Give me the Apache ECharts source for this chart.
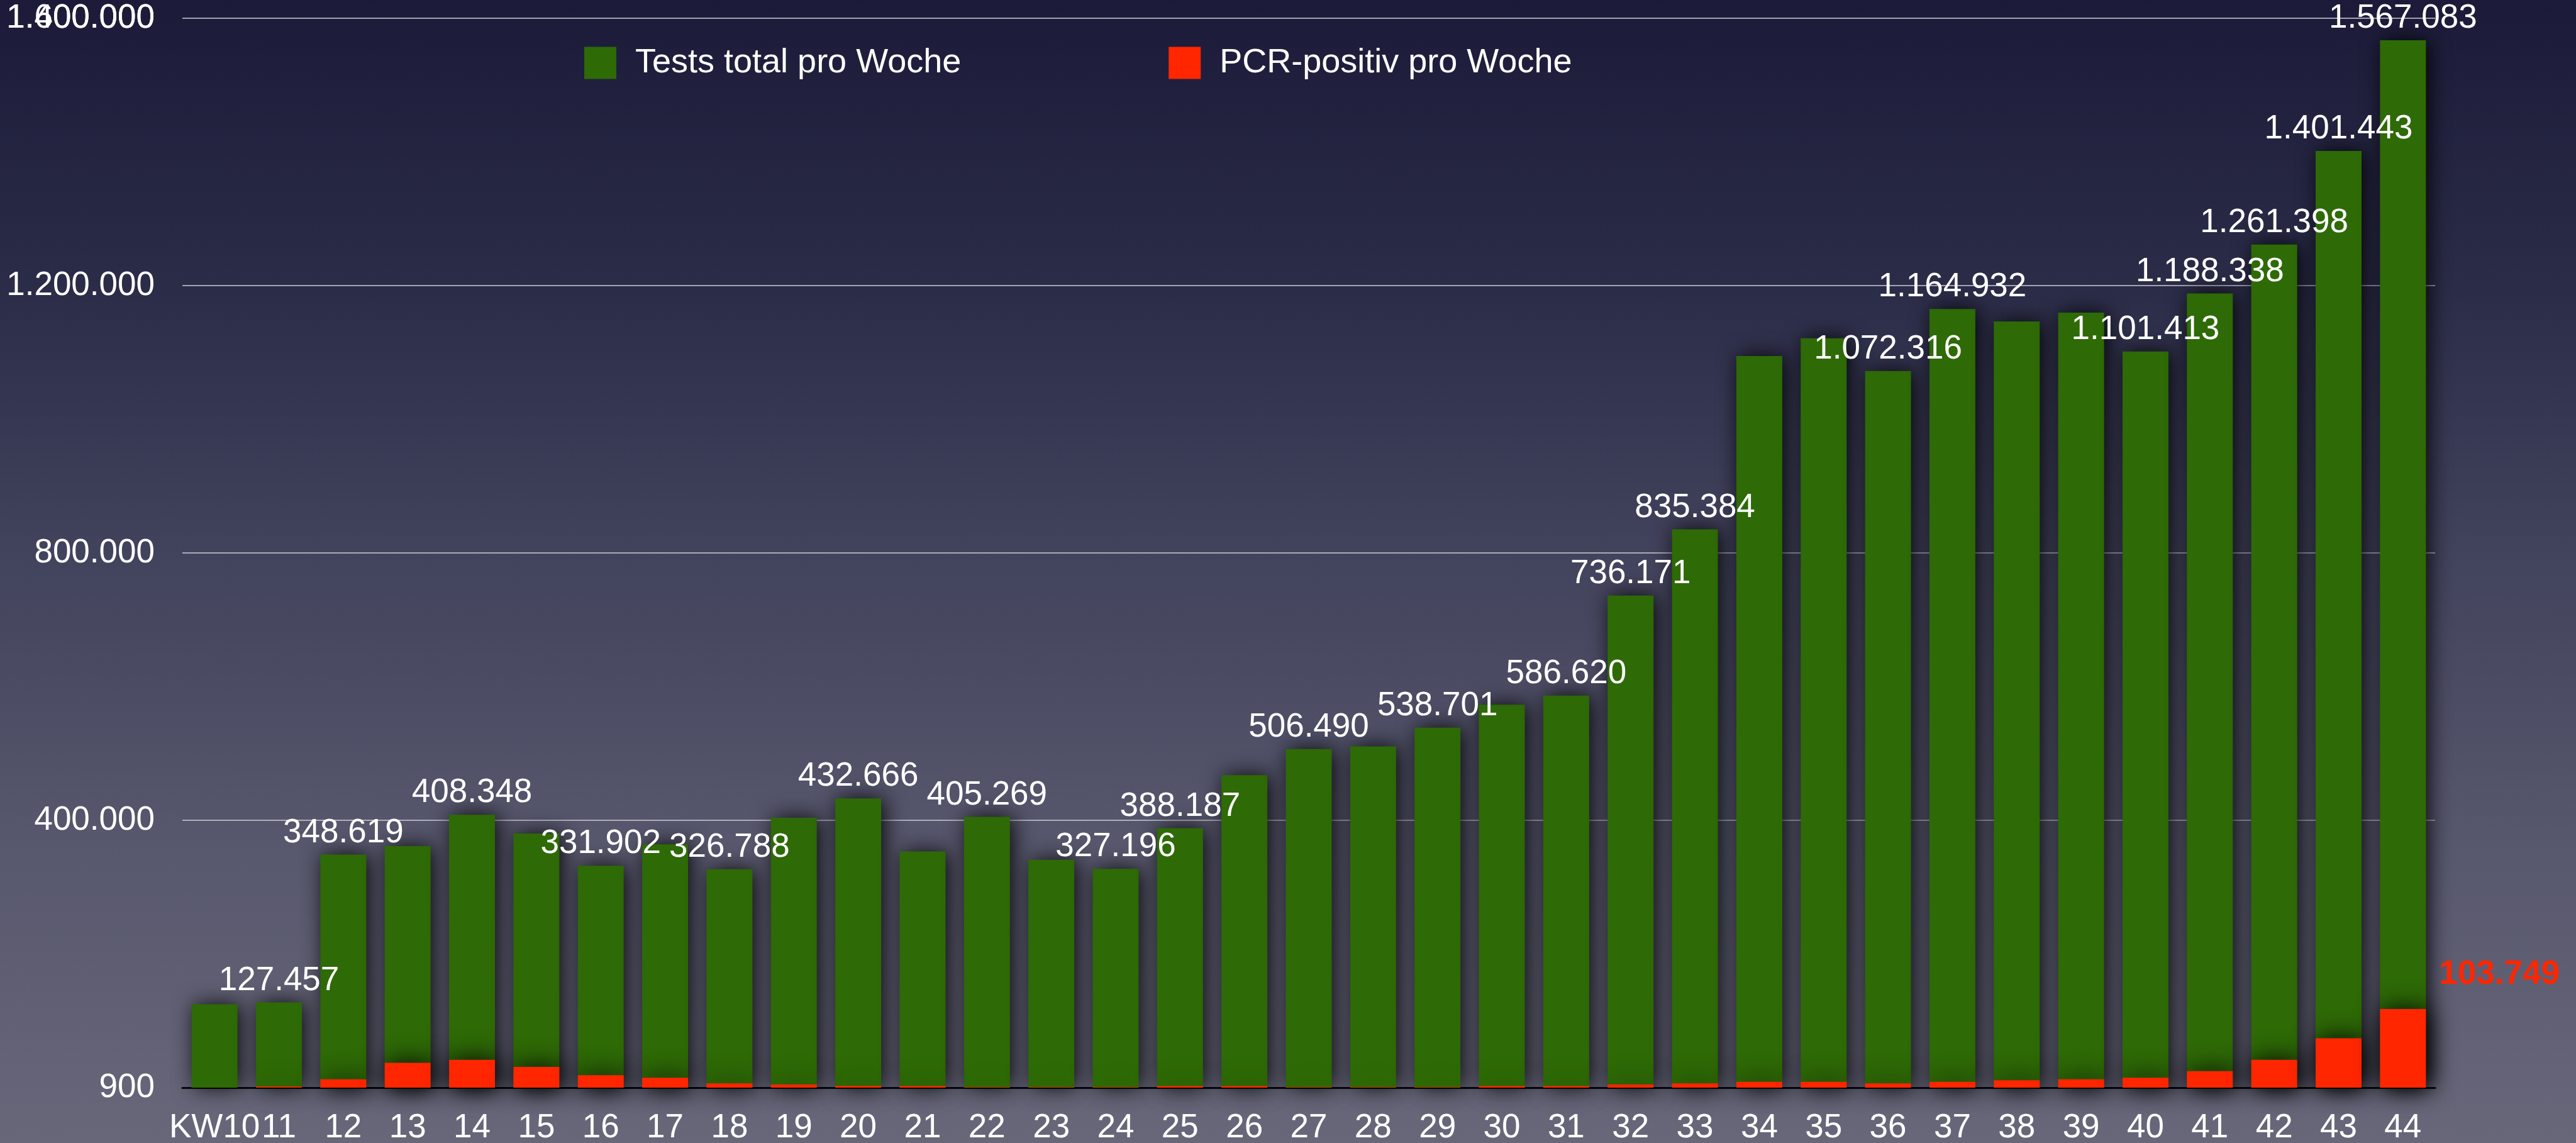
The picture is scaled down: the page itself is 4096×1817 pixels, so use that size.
<!DOCTYPE html>
<html>
<head>
<meta charset="utf-8">
<title>Tests pro Woche</title>
<script src="https://cdn.jsdelivr.net/npm/echarts@6/dist/echarts.min.js"></script>
<style>
  html, body { margin: 0; padding: 0; }
  #chart { width: 4096px; height: 1817px; }
</style>
</head>
<body>
<div id="chart"></div>
<script>
// Kalenderwochen (KW10 ... KW44)
const weeks = ['KW10', '11', '12', '13', '14', '15', '16', '17', '18', '19', '20',
  '21', '22', '23', '24', '25', '26', '27', '28', '29', '30', '31', '32', '33',
  '34', '35', '36', '37', '38', '39', '40', '41', '42', '43', '44'];

// Tests total pro Woche
const testsTotal = [124716, 127457, 348619, 361515, 408348, 380197, 331902, 363890,
  326788, 403875, 432666, 353467, 405269, 340986, 327196, 388187, 467413, 506490,
  510551, 538701, 572967, 586620, 736171, 835384, 1094506, 1121214, 1072316,
  1164932, 1146417, 1159591, 1101413, 1188338, 1261398, 1401443, 1567083];

// PCR-positiv pro Woche (eigene Achse 900 .. 1.400.000)
const pcrPositive = [900, 2400, 11900, 33400, 37400, 28000, 17200, 13900, 6500,
  5100, 3100, 3000, 1500, 1500, 1500, 3000, 3000, 1500, 1500, 1500, 3000, 3000,
  5100, 6500, 8500, 8500, 6500, 8500, 10500, 11900, 13900, 22600, 37400, 65600,
  103749];

// Wochen mit beschrifteter Säule
const labelledWeeks = ['11', '12', '14', '16', '18', '20', '22', '24', '25', '27',
  '29', '31', '32', '33', '36', '37', '40', '41', '42', '43', '44'];

// Achsen
const leftTicks = [0, 1600000, 400000];      // min, max, interval
const rightTicks = [900, 1400000];           // min, max

const FONT = '"Helvetica Neue", Helvetica, "Liberation Sans", Arial, sans-serif';

function fmt(v) {
  return String(Math.round(v)).replace(/\B(?=(\d{3})+(?!\d))/g, '.');
}

const chart = echarts.init(document.getElementById('chart'));

const option = {
  animation: false,
  backgroundColor: new echarts.graphic.LinearGradient(0, 0, 0, 1, [
    { offset: 0, color: '#1b1b39' },
    { offset: 0.25, color: '#2b2c48' },
    { offset: 0.5, color: '#43445d' },
    { offset: 0.75, color: '#58586e' },
    { offset: 1, color: '#68677a' }
  ]),
  textStyle: { fontFamily: FONT },
  legend: {
    left: 924,
    top: 68,
    itemWidth: 51,
    itemHeight: 51,
    itemGap: 330,
    icon: 'rect',
    textStyle: { color: '#ffffff', fontSize: 54, fontFamily: FONT, padding: [0, 0, 0, 25] },
    data: ['Tests total pro Woche', 'PCR-positiv pro Woche']
  },
  grid: {
    left: 290,
    right: 224,
    top: 29,
    bottom: 88,
    containLabel: false,
    outerBoundsMode: 'none'
  },
  xAxis: {
    type: 'category',
    data: weeks,
    axisTick: { show: false },
    axisLine: { lineStyle: { color: '#08080f', width: 3 } },
    axisLabel: {
      interval: 0,
      color: '#ffffff',
      fontSize: 53,
      fontFamily: FONT,
      margin: 38
    }
  },
  yAxis: [
    {
      type: 'value',
      min: leftTicks[0],
      max: leftTicks[1],
      interval: leftTicks[2],
      axisLine: { show: false },
      axisTick: { show: false },
      splitLine: { lineStyle: { color: 'rgba(205,205,215,0.75)', width: 2 } },
      axisLabel: {
        color: '#ffffff',
        fontSize: 53,
        fontFamily: FONT,
        margin: 44,
        formatter: v => (v === 0 ? '' : fmt(v))
      }
    },
    {
      type: 'value',
      position: 'left',
      min: rightTicks[0],
      max: rightTicks[1],
      interval: rightTicks[1] - rightTicks[0],
      axisLine: { show: false },
      axisTick: { show: false },
      splitLine: { show: false },
      axisLabel: {
        showMinLabel: true,
        showMaxLabel: true,
        color: '#ffffff',
        fontSize: 53,
        fontFamily: FONT,
        margin: 44,
        formatter: v => fmt(v)
      }
    }
  ],
  series: [
    {
      name: 'Tests total pro Woche',
      type: 'bar',
      yAxisIndex: 0,
      barWidth: 73,
      barGap: '-100%',
      itemStyle: {
        color: '#2e6a06',
        shadowBlur: 34,
        shadowColor: 'rgba(0,0,0,0.9)',
        shadowOffsetX: 5
      },
      label: {
        show: false,
        position: 'top',
        distance: 8,
        color: '#ffffff',
        fontSize: 53,
        fontFamily: FONT
      },
      data: testsTotal.map((v, i) => ({
        value: v,
        label: { show: labelledWeeks.includes(weeks[i]), formatter: fmt(v) }
      }))
    },
    {
      name: 'PCR-positiv pro Woche',
      type: 'bar',
      yAxisIndex: 1,
      barWidth: 73,
      barGap: '-100%',
      itemStyle: {
        color: '#ff2600',
        shadowBlur: 40,
        shadowColor: 'rgba(0,0,0,1)',
        shadowOffsetX: 4
      },
      label: {
        show: false,
        position: 'right',
        distance: 21,
        offset: [0, -117],
        color: '#ff2600',
        fontSize: 53,
        fontWeight: 'bold',
        fontFamily: FONT
      },
      data: pcrPositive.map((v, i) => ({
        value: v,
        label: { show: i === pcrPositive.length - 1, formatter: fmt(v) }
      }))
    }
  ]
};

chart.setOption(option);
</script>
</body>
</html>
